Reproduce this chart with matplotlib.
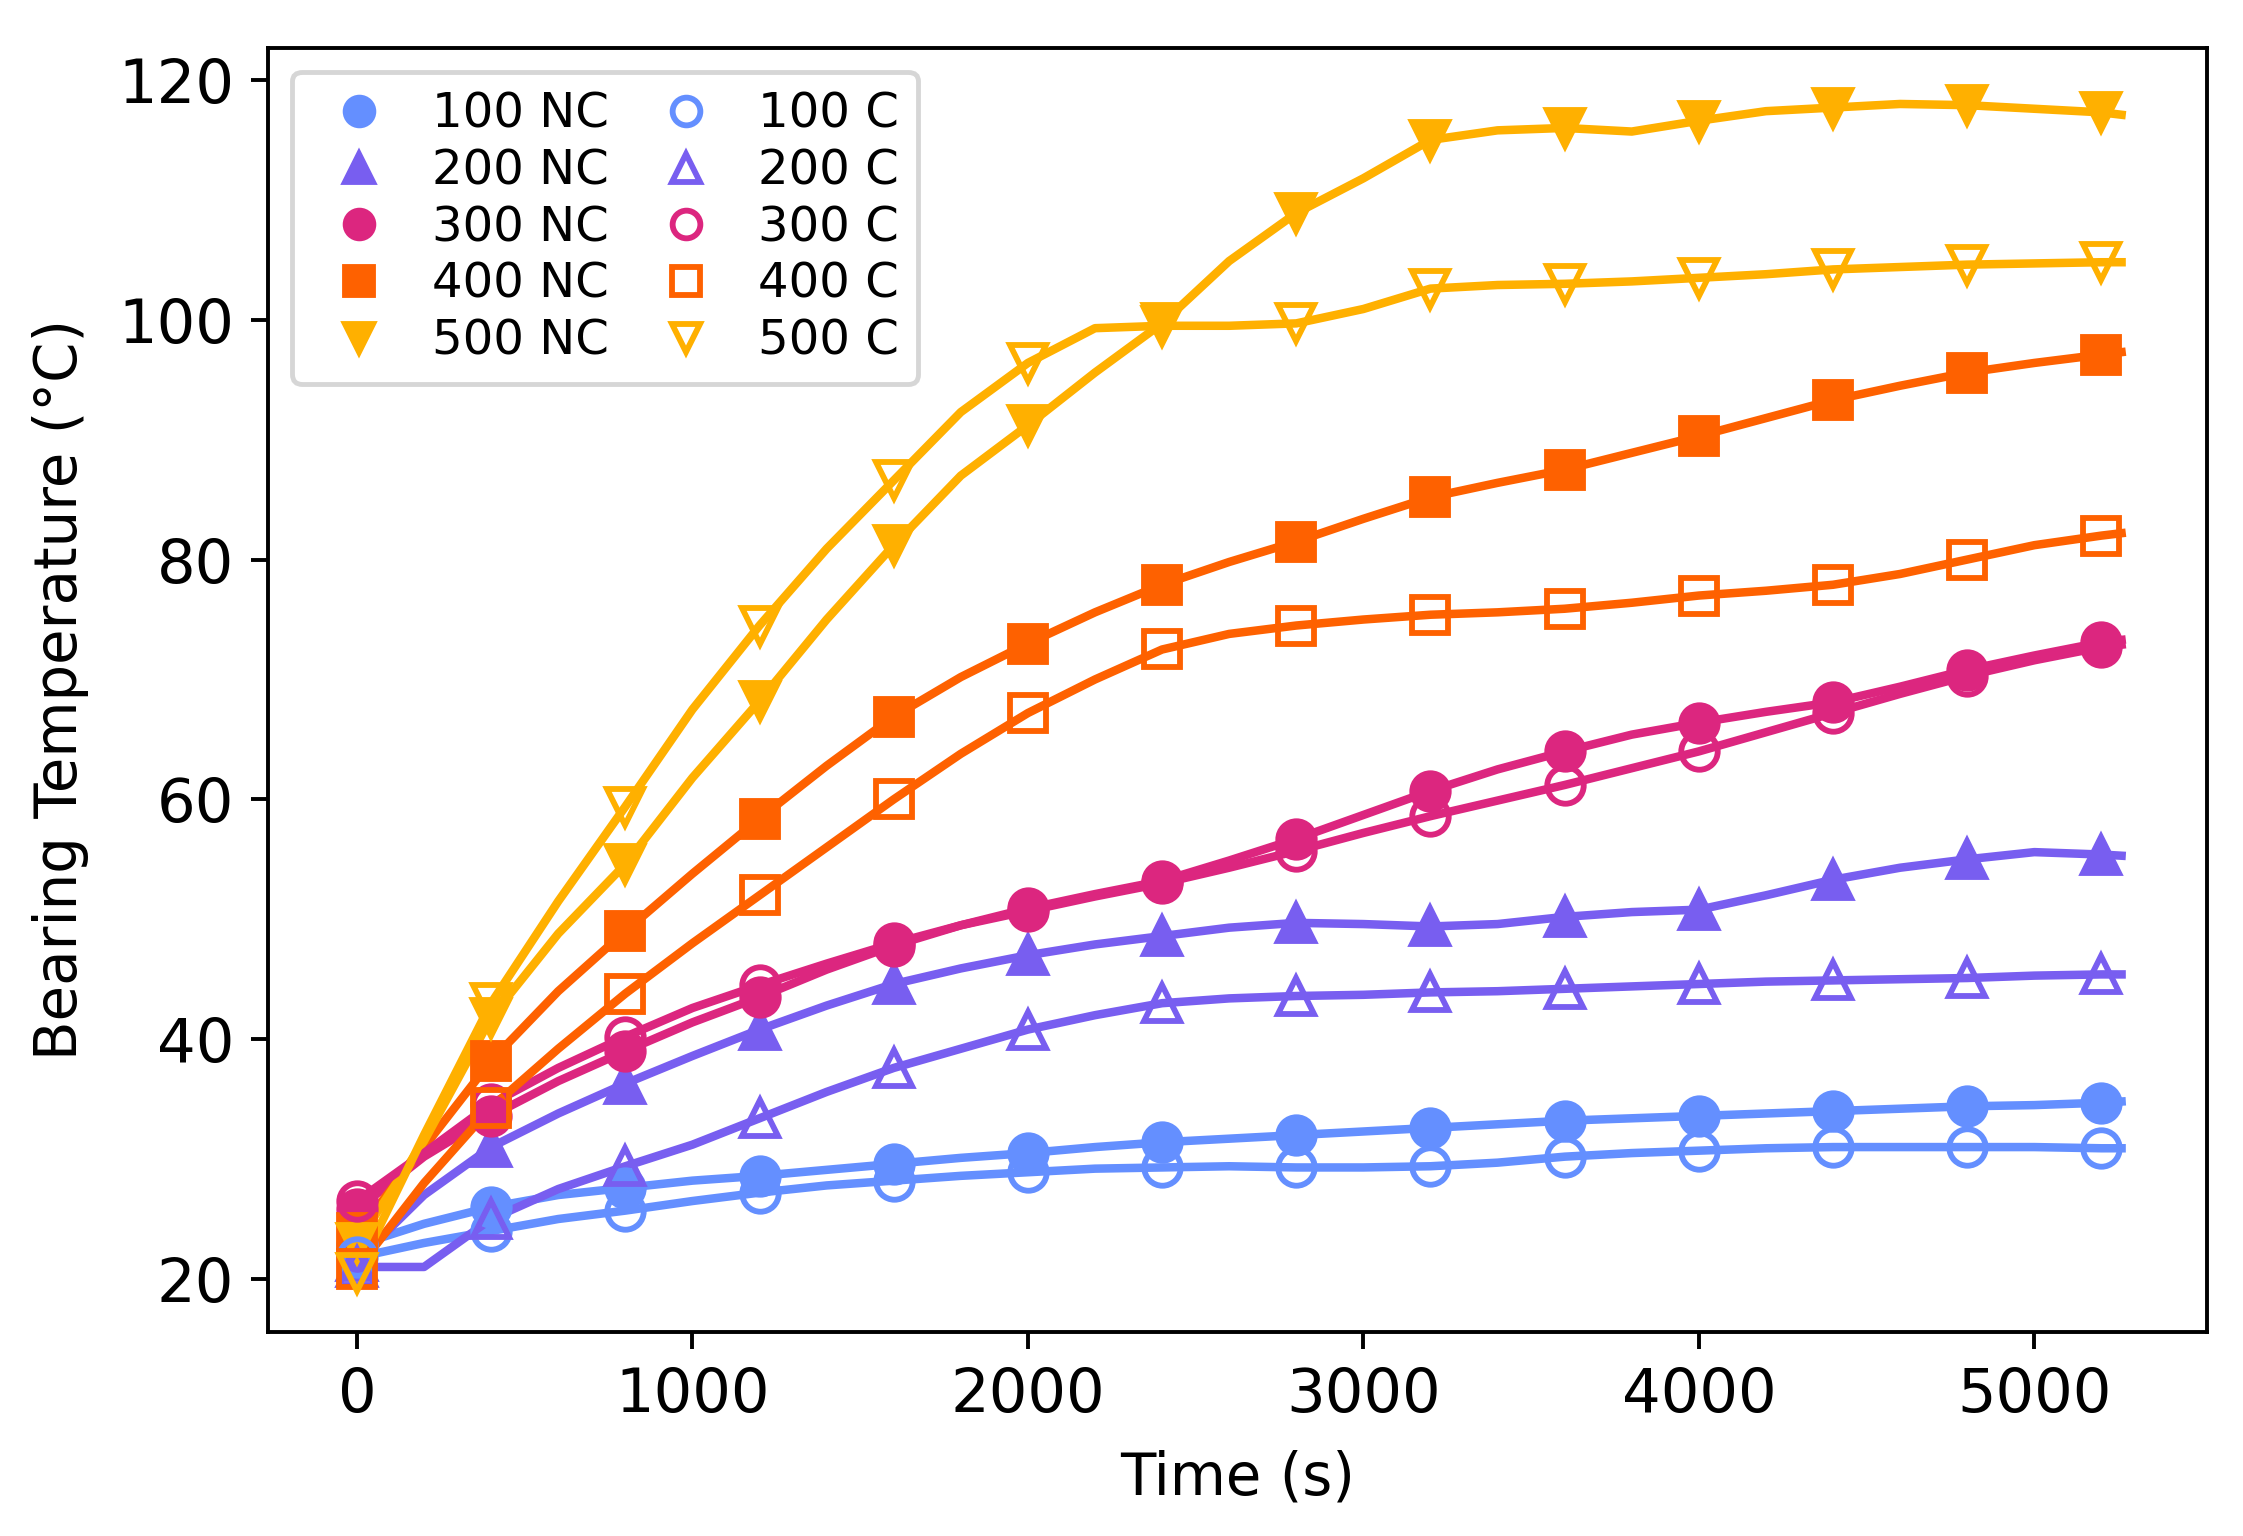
import matplotlib
matplotlib.use('Agg')
from matplotlib import pyplot as plt

# sample times (s); markers sit on every 400 s
time_s = [0, 200, 400, 600, 800, 1000, 1200, 1400, 1600, 1800, 2000, 2200, 2400,
          2600, 2800, 3000, 3200, 3400, 3600, 3800, 4000, 4200, 4400, 4600, 4800,
          5000, 5200, 5260]

# bearing temperature (degC), NC = no cooling, C = cooling
nc_100 = [22.8, 24.6, 26.0, 27.0, 27.6, 28.2, 28.6, 29.1, 29.6, 30.1, 30.5, 31.0, 31.4,
          31.7, 32.0, 32.3, 32.6, 32.9, 33.2, 33.4, 33.6, 33.8, 34.0, 34.2, 34.4,
          34.5, 34.7, 34.8]
c_100 = [21.8, 23.0, 24.0, 25.0, 25.7, 26.5, 27.2, 27.8, 28.2, 28.6, 28.9, 29.2, 29.3,
         29.4, 29.3, 29.3, 29.4, 29.7, 30.2, 30.5, 30.7, 30.9, 31.0, 31.0, 31.0,
         31.0, 30.9, 30.9]
nc_200 = [21.5, 27.0, 31.0, 33.8, 36.3, 38.6, 40.8, 42.8, 44.6, 45.9, 47.0, 47.9, 48.6,
          49.3, 49.7, 49.6, 49.4, 49.6, 50.2, 50.6, 50.8, 52.0, 53.3, 54.3, 55.0,
          55.6, 55.4, 55.3]
c_200 = [21.0, 21.0, 25.0, 27.5, 29.4, 31.2, 33.4, 35.6, 37.6, 39.2, 40.8, 42.0, 43.0,
         43.4, 43.6, 43.7, 43.9, 44.0, 44.2, 44.4, 44.6, 44.8, 44.9, 45.0, 45.1,
         45.3, 45.4, 45.4]
nc_300 = [25.8, 30.2, 33.6, 36.5, 39.0, 41.4, 43.5, 45.8, 47.8, 49.5, 50.9, 52.1, 53.2,
          54.9, 56.7, 58.7, 60.7, 62.5, 64.0, 65.4, 66.4, 67.3, 68.1, 69.4, 70.8,
          72.0, 73.1, 73.3]
c_300 = [26.5, 30.5, 34.6, 37.6, 40.2, 42.6, 44.5, 46.3, 48.0, 49.5, 50.7, 51.9, 53.0,
         54.3, 55.7, 57.2, 58.6, 59.9, 61.2, 62.6, 64.0, 65.6, 67.2, 68.8, 70.3,
         71.6, 72.7, 72.9]
nc_400 = [23.8, 31.0, 38.2, 44.0, 49.0, 53.8, 58.4, 62.8, 66.9, 70.2, 73.0, 75.6, 77.9,
          79.8, 81.5, 83.4, 85.2, 86.4, 87.5, 88.9, 90.3, 91.8, 93.3, 94.5, 95.6,
          96.4, 97.1, 97.3]
c_400 = [20.8, 28.0, 34.3, 39.2, 43.8, 48.0, 52.0, 56.0, 60.0, 63.8, 67.2, 70.0, 72.5,
         73.8, 74.5, 75.0, 75.4, 75.6, 75.9, 76.4, 77.0, 77.4, 77.9, 78.8, 80.0,
         81.2, 82.0, 82.2]
nc_500 = [23.0, 31.5, 41.8, 48.8, 54.6, 61.8, 68.2, 75.0, 81.2, 87.0, 91.2, 95.6, 99.7,
          104.9, 108.9, 111.8, 115.0, 115.8, 116.0, 115.7, 116.6, 117.4, 117.7, 118.0, 117.9,
          117.6, 117.3, 117.1]
c_500 = [20.5, 32.0, 43.0, 51.5, 59.4, 67.5, 74.5, 80.9, 86.6, 92.3, 96.4, 99.3, 99.5,
         99.5, 99.7, 100.9, 102.6, 102.9, 103.0, 103.2, 103.5, 103.8, 104.2, 104.4, 104.6,
         104.7, 104.8, 104.8]

speeds = ['100', '200', '300', '400', '500']
nc_series = [nc_100, nc_200, nc_300, nc_400, nc_500]
c_series = [c_100, c_200, c_300, c_400, c_500]
colors = ['#648FFF', '#785EF0', '#DC267F', '#FE6100', '#FFB000']
markers = ['o', '^', 'o', 's', 'v']

DPI = 350
fig = plt.figure(figsize=(2243 / DPI, 1536 / DPI), dpi=DPI)
ax = fig.add_axes([0.1195, 0.133, 0.8645, 0.836])

lw = 1.75
ms = 7.5

for col, ys in zip(colors, nc_series):
    ax.plot(time_s, ys, color=col, lw=lw, zorder=2)
for col, ys in zip(colors, c_series):
    ax.plot(time_s, ys, color=col, lw=lw, zorder=2)

# marker-only artists carry the legend labels (every 400 s)
mt = time_s[:-1][::2]
for sp, col, mk, ys in zip(speeds, colors, markers, nc_series):
    ax.plot(mt, ys[:-1][::2], ls='none', marker=mk, ms=ms, mew=1.2,
            color=col, label='%s NC' % sp, zorder=3)
for sp, col, mk, ys in zip(speeds, colors, markers, c_series):
    ax.plot(mt, ys[:-1][::2], ls='none', marker=mk, ms=ms, mew=1.2,
            color=col, mfc='none', mec=col, label='%s C' % sp, zorder=3)

ax.set_xlim(-265, 5515)
ax.set_ylim(15.6, 122.7)
ax.set_xticks([0, 1000, 2000, 3000, 4000, 5000])
ax.set_yticks([20, 40, 60, 80, 100, 120])
ax.tick_params(labelsize=12.5)
ax.set_xlabel('Time (s)', fontsize=11.9, labelpad=5)
ax.set_ylabel('Bearing Temperature (\u00b0C)', fontsize=11.9, labelpad=6)

ax.legend(loc='upper left', ncol=2, fontsize=9.9, markerscale=0.76,
          handlelength=2.0, handletextpad=0.5, columnspacing=0.6,
          labelspacing=0.2)

fig.savefig('out.png', dpi=DPI)
